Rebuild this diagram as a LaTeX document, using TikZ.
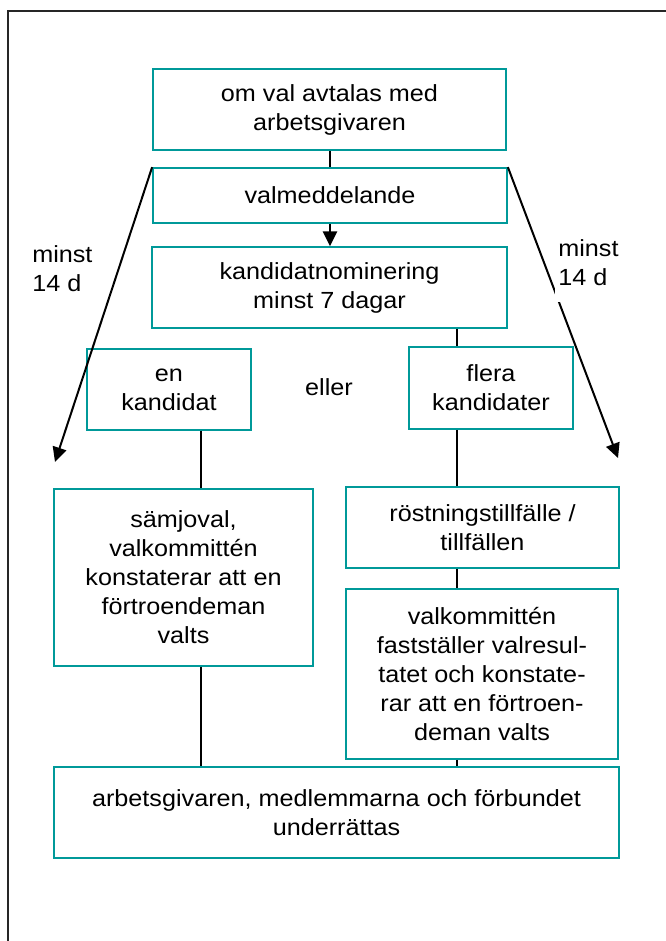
\documentclass[tikz,border=0pt]{standalone}
\usepackage{fontspec}
\setmainfont{Liberation Sans}[FakeStretch=1.08]
\usetikzlibrary{arrows.meta}
\definecolor{tealbox}{RGB}{0,153,153}
\begin{document}
\begin{tikzpicture}[x=0.75pt,y=-0.75pt,
  txt/.style={font=\fontsize{17.5}{21.75}\selectfont},
  box/.style={txt, draw=tealbox, line width=1.3pt, align=center, inner sep=0pt},
  conn/.style={line width=1.5pt, black},
  arr/.style={conn, -{Triangle[length=11pt,width=10.5pt]}},
  lbl/.style={txt, align=left, inner sep=0pt}]
\fill[white] (0,0) rectangle (665,941);
\useasboundingbox (0,0) rectangle (665,941);
\draw[line width=1.6pt, black!85] (8,945) -- (8,11) -- (670,11);

\node[box, minimum width=264.75pt, minimum height=60.75pt] (b1) at (329.5,109.5) {om val avtalas med\\arbetsgivaren};
\node[box, minimum width=265.5pt, minimum height=41.25pt] (b2) at (330,195.5) {valmeddelande};
\node[box, minimum width=266.25pt, minimum height=60.75pt] (b3) at (329.5,287.5) {kandidatnominering\\minst 7 dagar};
\node[box, minimum width=123pt, minimum height=60.75pt] (en) at (169,389.5) {en\\kandidat};
\node[box, minimum width=123pt, minimum height=61.5pt] (fl) at (491,388) {flera\\kandidater};
\node[txt, inner sep=0pt] (eller) at (329,387) {eller};
\node[box, minimum width=194.25pt, minimum height=132.75pt] (sam) at (183.5,577.5) {sämjoval,\\valkommittén\\konstaterar att en\\förtroendeman\\valts};
\node[box, minimum width=204.75pt, minimum height=60.75pt] (ros) at (482.5,527.5) {röstningstillfälle /\\tillfällen};
\node[box, minimum width=204pt, minimum height=127.5pt] (vk) at (482,674) {valkommittén\\fastställer valresul-\\tatet och konstate-\\rar att en förtroen-\\deman valts};
\node[box, minimum width=423.75pt, minimum height=68.25pt] (bot) at (336.5,812.5) {arbetsgivaren, medlemmarna och förbundet\\underrättas};

\coordinate (xr) at (457,0);
\coordinate (xl) at (201,0);
\coordinate (xm) at (330,0);
\coordinate (la) at (55,462);
\coordinate (ra) at (618,458);

\draw[conn] (b1.south -| xm) -- (b2.north -| xm);
\draw[arr] (b2.south -| xm) -- (b3.north -| xm);
\draw[arr] (b2.north west) -- (la);
\draw[arr] (b2.north east) -- (ra);
\draw[conn] (b3.south -| xr) -- (fl.north -| xr);
\draw[conn] (fl.south -| xr) -- (ros.north -| xr);
\draw[conn] (ros.south -| xr) -- (vk.north -| xr);
\draw[conn] (vk.south -| xr) -- (bot.north -| xr);
\draw[conn] (en.south -| xl) -- (sam.north -| xl);
\draw[conn] (sam.south -| xl) -- (bot.north -| xl);

\node[lbl, anchor=west] (ll) at (32,268.5) {minst\\14 d};
\node[lbl, anchor=west, fill=white, inner xsep=2.5pt, inner ysep=12pt] (rl) at (554.7,262.5) {minst\\14 d};
\end{tikzpicture}
\end{document}
